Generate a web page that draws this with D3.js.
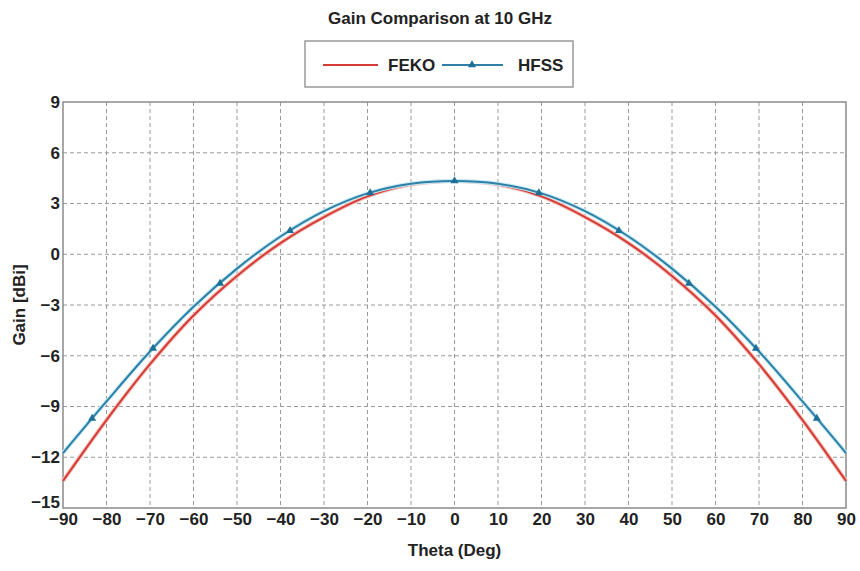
<!DOCTYPE html>
<html>
<head>
<meta charset="utf-8">
<script src="https://cdn.jsdelivr.net/npm/d3@7"></script>
<style>
  body { margin: 0; background: #fff; }
  svg text { font-family: "Liberation Sans Narrow", "Arial Narrow", "Liberation Sans", sans-serif; font-weight: bold; fill: #222; }
</style>
</head>
<body>
<svg id="chart" width="860" height="571"></svg>
<script>
// FEKO gain (dBi) read every 10 deg
const fekoTheta = [-90, -80, -70, -60, -50, -40, -30, -20, -10, 0, 10, 20, 30, 40, 50, 60, 70, 80, 90];
const fekoGain = [-13.4, -9.8, -6.5, -3.62, -1.28, 0.66, 2.2, 3.42, 4.12, 4.33, 4.12, 3.42, 2.2, 0.66, -1.28, -3.62, -6.5, -9.8, -13.4];

// HFSS gain (dBi) read every 10 deg
const hfssTheta = [-90, -80, -70, -60, -50, -40, -30, -20, -10, 0, 10, 20, 30, 40, 50, 60, 70, 80, 90];
const hfssGain = [-11.75, -8.7, -5.75, -3.1, -0.85, 1.05, 2.55, 3.6, 4.17, 4.33, 4.17, 3.6, 2.55, 1.05, -0.85, -3.1, -5.75, -8.7, -11.75];

// HFSS marker points
const hfssMarkerTheta = [-83.3, -69.3, -53.9, -37.8, -19.4, 0, 19.4, 37.8, 53.9, 69.3, 83.3];
const hfssMarkerGain = [-9.7, -5.56, -1.73, 1.4, 3.63, 4.33, 3.63, 1.4, -1.73, -5.56, -9.7];

const xTicks = d3.range(-90, 91, 10);
const yTicks = [-15, -12, -9, -6, -3, 0, 3, 6, 9];

const margin = {top: 102, right: 14, bottom: 63, left: 63};
const width = 860, height = 571;

const svg = d3.select('#chart');

const x = d3.scaleLinear().domain([-90, 90]).range([margin.left, width - margin.right]);
const y = d3.scaleLinear().domain([-15, 9]).range([height - margin.bottom, margin.top]);

// grid
svg.append('g').selectAll('line')
    .data(xTicks.slice(1, -1))
    .join('line')
    .attr('x1', d => x(d)).attr('x2', d => x(d))
    .attr('y1', y(9)).attr('y2', y(-15))
    .attr('stroke', '#9a9a9a').attr('stroke-width', 1).attr('stroke-dasharray', '4,3');

svg.append('g').selectAll('line')
    .data(yTicks.slice(1, -1))
    .join('line')
    .attr('x1', x(-90)).attr('x2', x(90))
    .attr('y1', d => y(d)).attr('y2', d => y(d))
    .attr('stroke', '#9a9a9a').attr('stroke-width', 1).attr('stroke-dasharray', '4,3');

// frame
svg.append('rect')
    .attr('x', x(-90)).attr('y', y(9))
    .attr('width', x(90) - x(-90)).attr('height', y(-15) - y(9))
    .attr('fill', 'none').attr('stroke', '#8a8a8a').attr('stroke-width', 1.5);

// axes
const xAxis = svg.append('g')
    .attr('transform', `translate(0,${y(-15)})`)
    .call(d3.axisBottom(x).tickValues(xTicks).tickSize(0).tickPadding(5));
xAxis.select('.domain').remove();
xAxis.selectAll('text').attr('font-size', 17).attr('fill', '#222');

const yAxis = svg.append('g')
    .attr('transform', `translate(${x(-90)},0)`)
    .call(d3.axisLeft(y).tickValues(yTicks).tickSize(0).tickPadding(3));
yAxis.select('.domain').remove();
yAxis.selectAll('text').attr('font-size', 17).attr('fill', '#222');
// bottom label sits a bit higher so it clears the -90
yAxis.selectAll('.tick').filter(d => d === -15).select('text').attr('dy', '-0.05em');

// curves
const line = d3.line().curve(d3.curveCatmullRom.alpha(0.5));

const fekoPts = fekoTheta.map((t, i) => [x(t), y(fekoGain[i])]);
const hfssPts = hfssTheta.map((t, i) => [x(t), y(hfssGain[i])]);

svg.append('path')
    .attr('d', line(fekoPts))
    .attr('fill', 'none').attr('stroke', '#f4c0ba').attr('stroke-width', 4);
svg.append('path')
    .attr('d', line(fekoPts))
    .attr('fill', 'none').attr('stroke', '#d63c36').attr('stroke-width', 2);

svg.append('path')
    .attr('d', line(hfssPts))
    .attr('fill', 'none').attr('stroke', '#c4ecf7').attr('stroke-width', 4);
svg.append('path')
    .attr('d', line(hfssPts))
    .attr('fill', 'none').attr('stroke', '#2f7fa6').attr('stroke-width', 2);

const tri = d3.symbol().type(d3.symbolTriangle).size(28);
svg.append('g').selectAll('path')
    .data(hfssMarkerTheta.map((t, i) => ({t, g: hfssMarkerGain[i]})))
    .join('path')
    .attr('d', tri)
    .attr('transform', d => `translate(${x(d.t)},${y(d.g)})`)
    .attr('fill', '#1f6f96');

// title
svg.append('text')
    .attr('x', 440).attr('y', 24)
    .attr('text-anchor', 'middle').attr('font-size', 17)
    .text('Gain Comparison at 10 GHz');

// legend
const lg = svg.append('g');
lg.append('rect')
    .attr('x', 305).attr('y', 41).attr('width', 268).attr('height', 46)
    .attr('fill', '#fff').attr('stroke', '#999').attr('stroke-width', 1.5);
lg.append('line').attr('x1', 323).attr('x2', 378).attr('y1', 65).attr('y2', 65)
    .attr('stroke', '#d63c36').attr('stroke-width', 2);
lg.append('text').attr('x', 388).attr('y', 71).attr('font-size', 17).text('FEKO');
lg.append('line').attr('x1', 442).attr('x2', 503).attr('y1', 65).attr('y2', 65)
    .attr('stroke', '#2f7fa6').attr('stroke-width', 2);
lg.append('path').attr('d', tri).attr('transform', 'translate(472,65)').attr('fill', '#1f6f96');
lg.append('text').attr('x', 518).attr('y', 71).attr('font-size', 17).text('HFSS');

// axis titles
svg.append('text')
    .attr('x', x(0)).attr('y', 556)
    .attr('text-anchor', 'middle').attr('font-size', 17)
    .text('Theta (Deg)');
svg.append('text')
    .attr('transform', `translate(25,${y(-3)}) rotate(-90)`)
    .attr('text-anchor', 'middle').attr('font-size', 17)
    .text('Gain [dBi]');
</script>
</body>
</html>
